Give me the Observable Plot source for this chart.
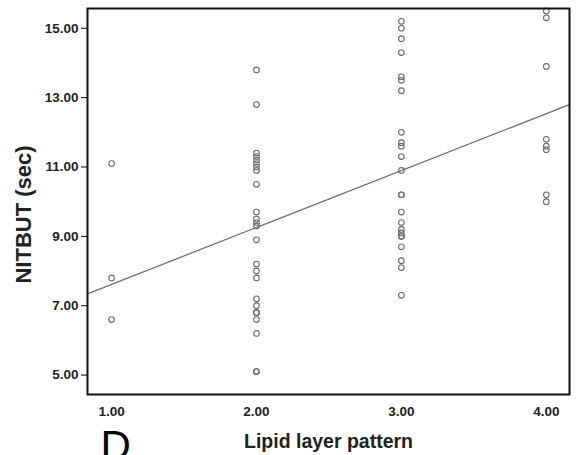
<!DOCTYPE html>
<html>
<head>
<meta charset="utf-8">
<script src="https://cdn.jsdelivr.net/npm/d3@7"></script>
<script src="https://cdn.jsdelivr.net/npm/@observablehq/plot@0.6"></script>
<style>
  html, body { margin: 0; padding: 0; background: #fff; }
  #chart svg { display: block; font-family: "Liberation Sans", Arial, sans-serif; }
</style>
</head>
<body>
<div id="chart"></div>
<script>
// Lipid layer pattern groups and NITBUT values (sec)
const pattern1 = [11.1, 7.8, 6.6];
const pattern2 = [13.8, 12.8, 11.4, 11.3, 11.2, 11.1, 11.0, 10.9, 10.5, 9.7, 9.5, 9.4, 9.3, 8.9,
                  8.2, 8.0, 7.8, 7.2, 7.0, 6.8, 6.8, 6.6, 6.2, 5.1, 5.1];
const pattern3 = [15.2, 15.0, 14.7, 14.3, 13.6, 13.5, 13.2, 12.0, 11.7, 11.6, 11.3, 10.9,
                  10.2, 10.2, 9.7, 9.4, 9.2, 9.1, 9.0, 9.0, 8.7, 8.3, 8.1, 7.3];
const pattern4 = [15.5, 15.3, 13.9, 11.8, 11.6, 11.5, 10.2, 10.0];
const xTicks = [1, 2, 3, 4];
const yTicks = [5, 7, 9, 11, 13, 15];
const xDomain = [0.834, 4.16];
const yDomain = [4.44, 15.57];

const groups = [[1, pattern1], [2, pattern2], [3, pattern3], [4, pattern4]];
const data = groups.flatMap(([x, ys]) => ys.map(y => ({x, y})));

// least-squares fit line, drawn across the whole frame
const mx = d3.mean(data, d => d.x), my = d3.mean(data, d => d.y);
const slope = d3.sum(data, d => (d.x - mx) * (d.y - my)) / d3.sum(data, d => (d.x - mx) ** 2);
const intercept = my - slope * mx;
const fit = xDomain.map(x => ({x, y: intercept + slope * x}));

const chart = Plot.plot({
  width: 577,
  height: 455,
  marginLeft: 87,
  marginRight: 8,
  marginTop: 8,
  marginBottom: 61,
  style: {background: "#fff", overflow: "visible"},
  x: {domain: xDomain, ticks: xTicks, tickFormat: d3.format(".2f"), tickSize: 7, tickPadding: 5, label: null},
  y: {domain: yDomain, ticks: yTicks, tickFormat: d3.format(".2f"), tickSize: 6, tickPadding: 3, label: null},
  marks: [
    Plot.axisX({ticks: xTicks, tickFormat: d3.format(".2f"), tickSize: 7, tickPadding: 5, fontSize: 13.5, fontWeight: "bold", fill: "#222", stroke: null, label: null}),
    Plot.axisY({ticks: yTicks, tickFormat: d3.format(".2f"), tickSize: 6, tickPadding: 3, fontSize: 13.5, fontWeight: "bold", fill: "#222", label: null}),
    Plot.line(fit, {x: "x", y: "y", stroke: "#707070", strokeWidth: 1.3, clip: true}),
    Plot.dot(data, {x: "x", y: "y", r: 2.8, stroke: "#6a6a6a", strokeWidth: 1.1, fill: "none"}),
    Plot.frame({stroke: "#111", strokeWidth: 2}),
    Plot.text(["NITBUT (sec)"], {frameAnchor: "left", rotate: -90, dx: -64, dy: 13, textAnchor: "middle", lineAnchor: "middle", fontSize: 22, fontWeight: "bold", fill: "#222"}),
    Plot.text(["Lipid layer pattern"], {frameAnchor: "bottom", dy: 53, textAnchor: "middle", lineAnchor: "bottom", fontSize: 19.5, fontWeight: "bold", fill: "#222"}),
    Plot.text(["D"], {frameAnchor: "bottom-left", dx: 13, dy: 65, textAnchor: "start", lineAnchor: "bottom", fontSize: 42, fill: "#000"})
  ]
});
document.getElementById("chart").appendChild(chart);
</script>
</body>
</html>
